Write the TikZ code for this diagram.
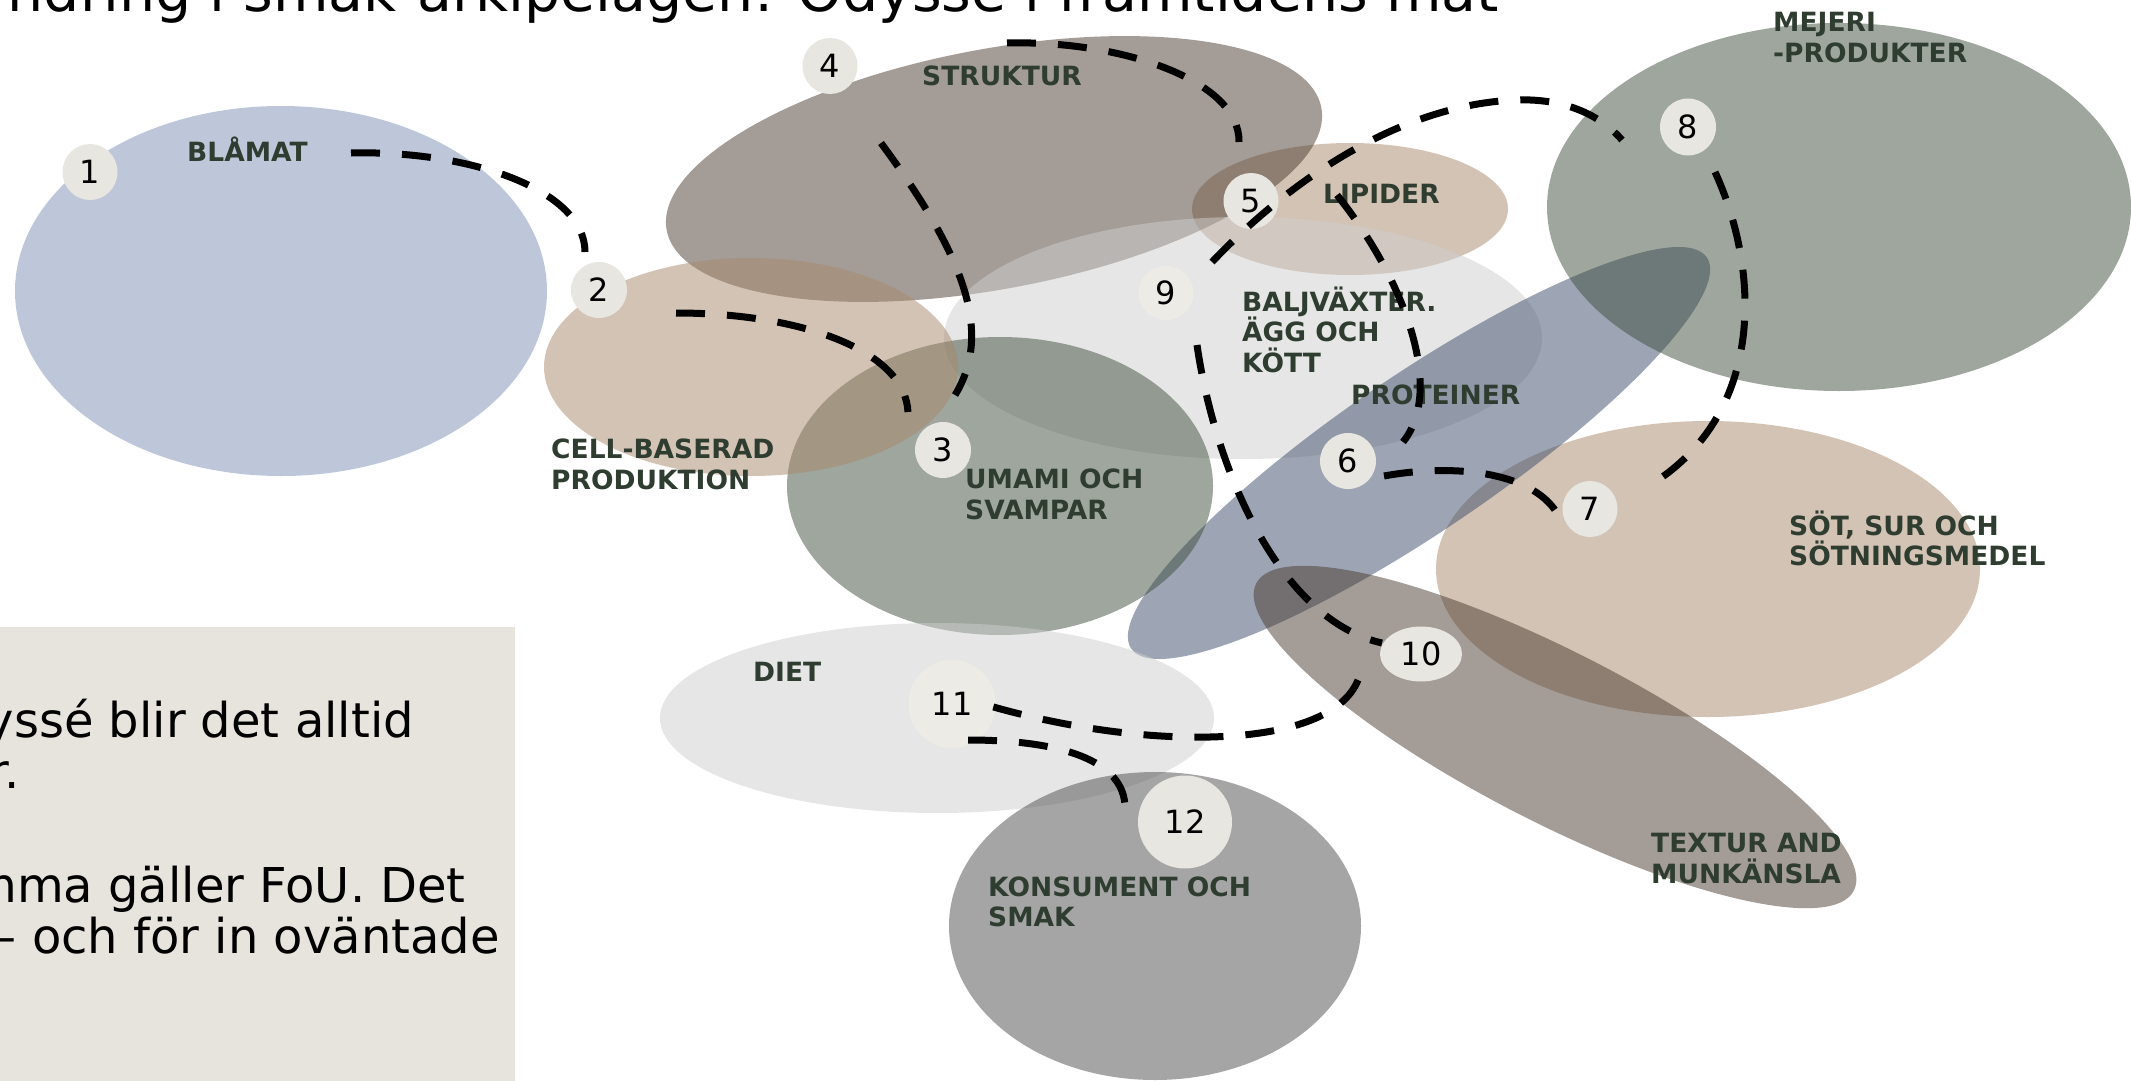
\documentclass[tikz,border=0pt]{standalone}
\usepackage{fontspec}
\setmainfont{DejaVu Sans}
\usetikzlibrary{shapes.geometric}
\definecolor{bluefill}{RGB}{190,199,218}
\definecolor{tanc}{RGB}{169,137,107}
\definecolor{brownc}{RGB}{75,59,47}
\definecolor{greyc}{RGB}{206,206,206}
\definecolor{greenc}{RGB}{63,79,63}
\definecolor{protc}{RGB}{61,77,109}
\definecolor{konsc}{RGB}{77,77,77}
\definecolor{badgec}{RGB}{232,230,224}
\definecolor{badgelt}{RGB}{237,235,229}
\definecolor{labc}{RGB}{47,61,49}
\definecolor{boxc}{RGB}{231,228,222}
\begin{document}
\begin{tikzpicture}[x=1pt,y=-1pt,
  blob/.style={fill opacity=0.5},
  badge/.style={ellipse, fill=badgec, inner sep=0pt, text=black, font=\fontsize{32}{32}\selectfont},
  lab/.style={inner sep=0pt, anchor=base west, text=labc, font=\fontsize{26.5}{31}\selectfont\bfseries},
  body/.style={inner sep=0pt, anchor=base east, text=black, font=\fontsize{48}{56}\selectfont},
  conn/.style={line width=7pt, dash pattern=on 29pt off 22pt, black}]
\clip (0,0) rectangle (2131,1081);
\fill[white] (0,0) rectangle (2131,1081);

% title and text box
\node[inner sep=0pt, anchor=base east, font=\fontsize{57}{60}\selectfont] (title) at (1499,12) {ndring i smak-arkipelagen: Odyssé i framtidens mat};
\fill[boxc] (0,627) rectangle (515,1081);
\node[body] (t1) at (414,737) {yssé blir det alltid};
\node[body] (t2) at (20,788) {r.};
\node[body] (t3) at (466,902) {mma gäller FoU. Det};
\node[body] (t4) at (500,953) {– och för in oväntade};

% areas
\fill[bluefill] (281,291) ellipse [x radius=266pt, y radius=185pt];
\fill[blob, fill=tanc] (1350,209) ellipse [x radius=158pt, y radius=66pt];
\fill[blob, fill=brownc, rotate around={10.6:(994,169)}] (994,169) ellipse [x radius=333pt, y radius=120pt];
\fill[blob, fill=greyc] (1243,338) ellipse [x radius=299pt, y radius=121pt];
\fill[blob, fill=tanc] (1708,569) ellipse [x radius=272pt, y radius=148pt];
\fill[blob, fill=protc, rotate around={34.2:(1419,453)}] (1419,453) ellipse [x radius=348pt, y radius=78pt];
\fill[blob, fill=greenc] (1000,486) ellipse [x radius=213pt, y radius=149pt];
\fill[blob, fill=greenc] (1839,207) ellipse [x radius=292pt, y radius=184pt];
\fill[blob, fill=tanc] (751,367) ellipse [x radius=207pt, y radius=109pt];
\fill[blob, fill=brownc, rotate around={-27.2:(1555,737)}] (1555,737) ellipse [x radius=336pt, y radius=85pt];
\fill[blob, fill=greyc] (937,718) ellipse [x radius=277pt, y radius=95pt];
\fill[blob, fill=konsc] (1155,926) ellipse [x radius=206pt, y radius=154pt];

% badges
\node[badge, minimum width=55pt, minimum height=56pt] (n1) at (90,172) {1};
\node[badge, minimum width=56pt, minimum height=56pt] (n2) at (599,290) {2};
\node[badge, minimum width=56pt, minimum height=56pt] (n3) at (943,450) {3};
\node[badge, minimum width=55pt, minimum height=56pt] (n4) at (830,66) {4};
\node[badge, minimum width=55pt, minimum height=56pt] (n5) at (1251,201) {5};
\node[badge, minimum width=56pt, minimum height=56pt] (n6) at (1348,461) {6};
\node[badge, minimum width=55pt, minimum height=56pt] (n7) at (1590,509) {7};
\node[badge, minimum width=56pt, minimum height=57pt] (n8) at (1688,127) {8};
\node[badge, fill=badgelt, minimum width=55pt, minimum height=54pt] (n9) at (1166,293) {9};
\node[badge, minimum width=82pt, minimum height=55pt] (n10) at (1421,654) {10};
\node[badge, fill=badgelt, minimum width=87pt, minimum height=88pt] (n11) at (952,704) {11};
\node[badge, minimum width=94pt, minimum height=93pt] (n12) at (1185,822) {12};

% labels
\node[lab] (lblamat) at (187,161) {BLÅMAT};
\node[lab] (lcell1) at (551,458) {CELL-BASERAD};
\node[lab] (lcell2) at (551,489) {PRODUKTION};
\node[lab] (lumami1) at (965,488) {UMAMI OCH};
\node[lab] (lumami2) at (965,519) {SVAMPAR};
\node[lab] (lstruk) at (922,85) {STRUKTUR};
\node[lab] (llip) at (1323,203) {LIPIDER};
\node[lab] (lbalj1) at (1242,311) {BALJVÄXTER.};
\node[lab] (lbalj2) at (1242,341) {ÄGG OCH};
\node[lab] (lbalj3) at (1242,372) {KÖTT};
\node[lab] (lprot) at (1351,404) {PROTEINER};
\node[lab] (lmej1) at (1773,32) {MEJERI};
\node[lab] (lmej2) at (1773,63) {-PRODUKTER};
\node[lab] (lsot1) at (1789,535) {SÖT, SUR OCH};
\node[lab] (lsot2) at (1789,565) {SÖTNINGSMEDEL};
\node[lab] (ltex1) at (1651,852) {TEXTUR AND};
\node[lab] (ltex2) at (1651,883) {MUNKÄNSLA};
\node[lab] (ldiet) at (753,681) {DIET};
\node[lab] (lkons1) at (988,896) {KONSUMENT OCH};
\node[lab] (lkons2) at (988,926) {SMAK};

% connector ends
\coordinate (a1) at (351,153); \coordinate (a2) at (585,252);
\coordinate (b1) at (676,313); \coordinate (b2) at (908,412);
\coordinate (c1) at (881,143); \coordinate (c2) at (955,395);
\coordinate (d1) at (1007,43); \coordinate (d2) at (1239,142);
\coordinate (e1) at (1212,262); \coordinate (em) at (1515,100); \coordinate (e2) at (1622,140);
\coordinate (f1) at (1715,172); \coordinate (f2) at (1655,482);
\coordinate (g1) at (1384,476); \coordinate (g2) at (1557,513);
\coordinate (h1) at (1337,195); \coordinate (h2) at (1403,442);
\coordinate (i1) at (1197,345); \coordinate (i2) at (1382,643);
\coordinate (j1) at (1358,680); \coordinate (j2) at (990,706);
\coordinate (k1) at (968,740); \coordinate (k2) at (1125,808);

% connectors
\draw[conn] (a1) .. controls (470,150) and (585,190) .. (a2);
\draw[conn] (b1) .. controls (800,313) and (905,350) .. (b2);
\draw[conn] (c1) .. controls (960,250) and (995,330) .. (c2);
\draw[conn] (d1) .. controls (1120,40) and (1240,80) .. (d2);
\draw[conn] (e1) .. controls (1290,180) and (1400,105) .. (em) .. controls (1565,98) and (1600,115) .. (e2);
\draw[conn] (f1) .. controls (1760,270) and (1765,410) .. (f2);
\draw[conn] (g1) .. controls (1450,464) and (1530,470) .. (g2);
\draw[conn] (h1) .. controls (1405,280) and (1445,390) .. (h2);
\draw[conn] (i1) .. controls (1215,470) and (1280,620) .. (i2);
\draw[conn] (j1) .. controls (1330,750) and (1150,752) .. (j2);
\draw[conn] (k1) .. controls (1060,740) and (1125,760) .. (k2);
\end{tikzpicture}
\end{document}
